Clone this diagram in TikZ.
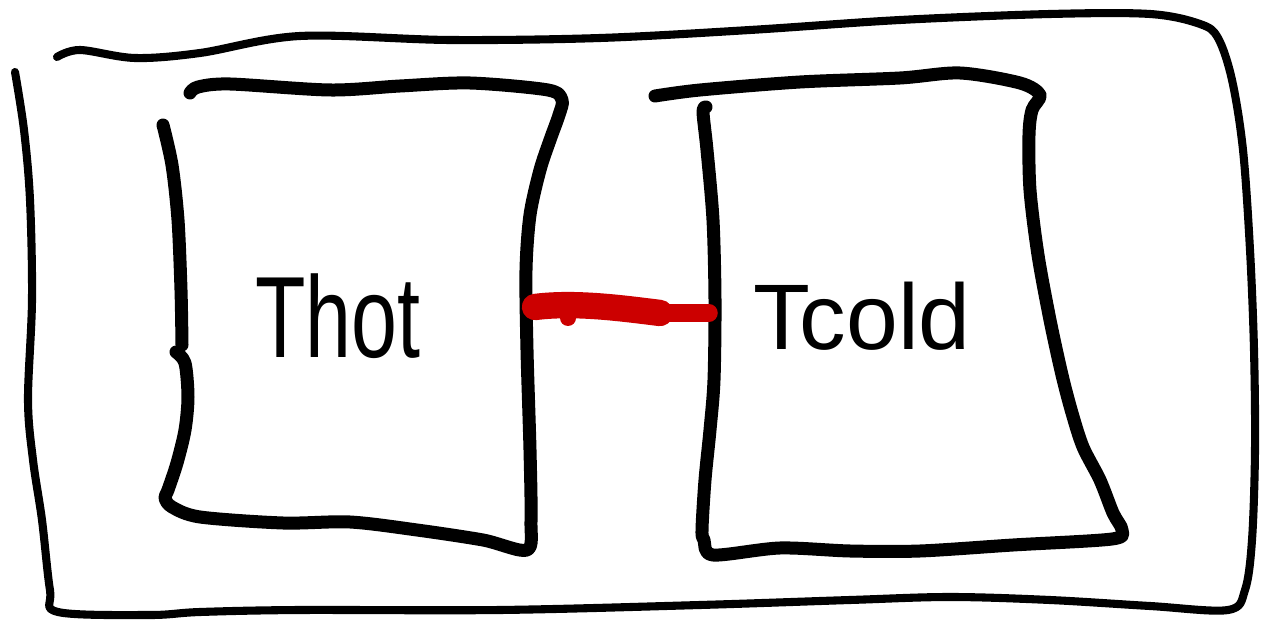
\documentclass[tikz,border=0pt]{standalone}
\usepackage{fontspec}
\setmainfont{Liberation Sans}
\definecolor{heatred}{RGB}{204,0,0}
\tikzset{
  outerline/.style={line width=4.6pt, line cap=round, line join=round},
  boxline/.style={line width=7.4pt, line cap=round, line join=round},
  heatlink/.style={heatred, line cap=round, line join=round},
  label/.style={inner sep=0pt, anchor=base},
}
\begin{document}
\begin{tikzpicture}[x=0.02cm,y=-0.02cm]
\useasboundingbox (0,0) rectangle (1261,621);
\fill[white] (0,0) rectangle (1261,621);
% outer enclosure
\draw[outerline] plot[smooth, tension=0.55] coordinates {
 (57,57) (80,50) (135,58) (200,53) (300,36) (450,40) (600,38) (750,30) (900,20)
 (1050,14) (1150,14) (1200,24) (1218,38) (1232,80) (1243,150) (1250,250)
 (1254,350) (1255,450) (1252,540) (1245,590) (1228,610) (1150,606) (1050,600)
 (950,597) (850,600) (700,605) (500,610) (300,610) (200,612) (150,615) (58,612)
 (50,590) (42,520) (33,460) (28,400) (32,300) (30,200) (24,130) (15,72)};
% hot box
\draw[boxline] plot[smooth, tension=0.5] coordinates {
 (190,93) (198,87) (230,84) (330,90) (400,86) (470,83) (548,90) (562,100)
 (559,115) (550,140) (540,170) (530,215) (526,270) (527,350) (530,450)
 (531,520) (527,550) (483,540) (417,530) (350,522) (283,523) (200,517)
 (172,507) (165,498) (168,490) (177,463) (185,430) (188,397) (185,363) (176,352)};
\draw[boxline] plot[smooth, tension=0.5] coordinates {
 (163,125) (172,165) (178,220) (181,290) (182,345)};
% cold box
\draw[boxline] plot[smooth, tension=0.5] coordinates {
 (655,96) (700,90) (800,82) (900,78) (960,73) (1020,83) (1040,95) (1032,110)
 (1029,135) (1030,190) (1038,255) (1050,320) (1062,375) (1072,413) (1083,447)
 (1100,480) (1113,513) (1122,530) (1112,539) (1013,545) (920,551) (850,551)
 (780,548) (713,555) (704,540) (702,530) (705,480) (710,430) (714,380)
 (715,300) (713,220) (707,150) (703,112) (706,107)};
% heat link
\coordinate (hotside) at (535,307);
\coordinate (mid) at (660,313);
\coordinate (coldside) at (709,313);
\draw[heatlink, line width=15pt] (hotside) .. controls (575,302) and (620,308) .. (mid);
\draw[heatlink, line width=10pt] (mid) -- (coldside);
\fill[heatred] (568,318) circle (8);
% labels
\node[label] (thot) at (338,358) {\fontsize{47}{47}\selectfont\scalebox{1}[1.4]{Thot}};
\node[label] (tcold) at (862,350) {\fontsize{53}{53}\selectfont Tcold};
\end{tikzpicture}
\end{document}
